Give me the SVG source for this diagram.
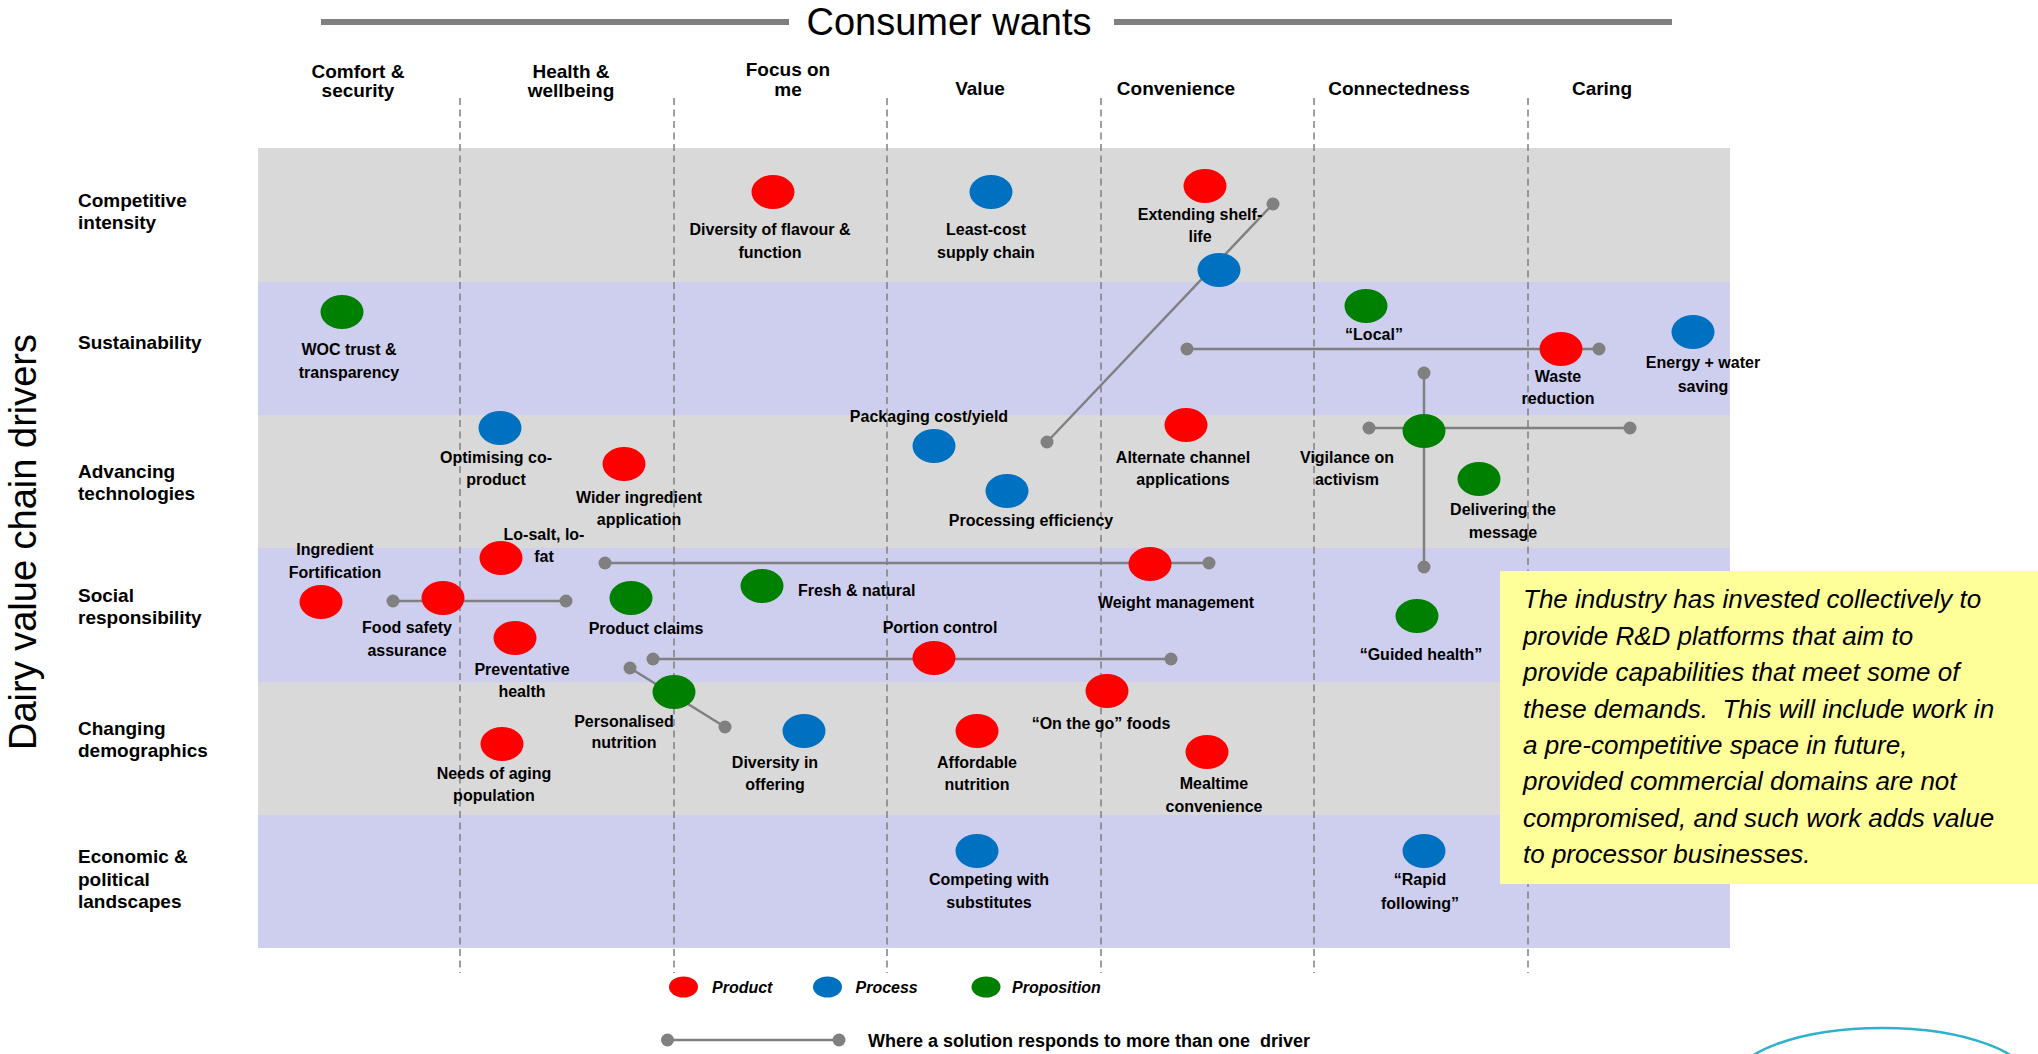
<svg xmlns="http://www.w3.org/2000/svg" width="2038" height="1054" viewBox="0 0 2038 1054">
<defs>
<style>
.bg{fill:#FFFFFF}
.band-g{fill:#D9D9D9}
.band-l{fill:#CECEEE}
.div{stroke:#808080;stroke-width:1.5;stroke-dasharray:7 4.5;fill:none}
.tline{stroke:#808080;stroke-width:6}
.title{font-family:"Liberation Sans",Arial,sans-serif;font-size:38px;fill:#000;text-anchor:middle}
.yaxis{font-family:"Liberation Sans",Arial,sans-serif;font-size:38px;fill:#000;text-anchor:middle}
.hdr{font-family:"Liberation Sans",Arial,sans-serif;font-weight:bold;font-size:19px;fill:#000;text-anchor:middle}
.row{font-family:"Liberation Sans",Arial,sans-serif;font-weight:bold;font-size:19px;fill:#000}
.lbl{font-family:"Liberation Sans",Arial,sans-serif;font-weight:bold;font-size:16px;fill:#000;text-anchor:middle}
.lbls{font-family:"Liberation Sans",Arial,sans-serif;font-weight:bold;font-size:16px;fill:#000}
.leg{font-family:"Liberation Sans",Arial,sans-serif;font-weight:bold;font-style:italic;font-size:16px;fill:#000}
.legl{font-family:"Liberation Sans",Arial,sans-serif;font-weight:bold;font-size:18px;fill:#000}
.note{font-family:"Liberation Sans",Arial,sans-serif;font-style:italic;font-size:26px;fill:#000}
.red{fill:#FF0000}
.blue{fill:#0070C0}
.green{fill:#008000}
.conn{stroke:#808080;stroke-width:2.5;fill:none}
.dot{fill:#808080}
</style>
</defs>
<rect class="bg" x="0" y="0" width="2038" height="1054"/>

<!-- title -->
<g id="title">
<line class="tline" x1="321" y1="22" x2="789" y2="22"/>
<line class="tline" x1="1114" y1="22" x2="1672" y2="22"/>
<text class="title" x="949" y="35">Consumer wants</text>
</g>

<!-- bands -->
<g id="bands">
<rect class="band-g" x="258" y="148" width="1472" height="134"/>
<rect class="band-l" x="258" y="282" width="1472" height="133"/>
<rect class="band-g" x="258" y="415" width="1472" height="133"/>
<rect class="band-l" x="258" y="548" width="1472" height="134"/>
<rect class="band-g" x="258" y="682" width="1472" height="133"/>
<rect class="band-l" x="258" y="815" width="1472" height="133"/>
</g>

<!-- dividers -->
<g id="dividers">
<line class="div" x1="460" y1="98" x2="460" y2="973"/>
<line class="div" x1="674" y1="98" x2="674" y2="973"/>
<line class="div" x1="887" y1="98" x2="887" y2="973"/>
<line class="div" x1="1101" y1="98" x2="1101" y2="973"/>
<line class="div" x1="1314" y1="98" x2="1314" y2="973"/>
<line class="div" x1="1528" y1="98" x2="1528" y2="973"/>
</g>

<!-- column headers -->
<g id="columns">
<text class="hdr" x="358" y="78">Comfort &amp;</text>
<text class="hdr" x="358" y="97">security</text>
<text class="hdr" x="571" y="78">Health &amp;</text>
<text class="hdr" x="571" y="97">wellbeing</text>
<text class="hdr" x="788" y="76">Focus on</text>
<text class="hdr" x="788" y="96">me</text>
<text class="hdr" x="980" y="95">Value</text>
<text class="hdr" x="1176" y="95">Convenience</text>
<text class="hdr" x="1399" y="95">Connectedness</text>
<text class="hdr" x="1602" y="95">Caring</text>
</g>

<!-- row labels -->
<g id="rows">
<text class="yaxis" transform="translate(36,542) rotate(-90)">Dairy value chain drivers</text>
<text class="row" x="78" y="207">Competitive</text>
<text class="row" x="78" y="229">intensity</text>
<text class="row" x="78" y="349">Sustainability</text>
<text class="row" x="78" y="478">Advancing</text>
<text class="row" x="78" y="500">technologies</text>
<text class="row" x="78" y="602">Social</text>
<text class="row" x="78" y="624">responsibility</text>
<text class="row" x="78" y="735">Changing</text>
<text class="row" x="78" y="757">demographics</text>
<text class="row" x="78" y="863">Economic &amp;</text>
<text class="row" x="78" y="886">political</text>
<text class="row" x="78" y="908">landscapes</text>
</g>

<!-- connectors -->
<g id="connectors">
<line class="conn" x1="1273" y1="204" x2="1047" y2="442"/>
<line class="conn" x1="1187" y1="349" x2="1599" y2="349"/>
<line class="conn" x1="1424" y1="373" x2="1424" y2="567"/>
<line class="conn" x1="1369" y1="428" x2="1630" y2="428"/>
<line class="conn" x1="605" y1="563" x2="1209" y2="563"/>
<line class="conn" x1="393" y1="601" x2="566" y2="601"/>
<line class="conn" x1="653" y1="659" x2="1171" y2="659"/>
<line class="conn" x1="630" y1="668" x2="725" y2="727"/>
<circle class="dot" cx="1273" cy="204" r="6.5"/>
<circle class="dot" cx="1047" cy="442" r="6.5"/>
<circle class="dot" cx="1187" cy="349" r="6.5"/>
<circle class="dot" cx="1599" cy="349" r="6.5"/>
<circle class="dot" cx="1424" cy="373" r="6.5"/>
<circle class="dot" cx="1424" cy="567" r="6.5"/>
<circle class="dot" cx="1369" cy="428" r="6.5"/>
<circle class="dot" cx="1630" cy="428" r="6.5"/>
<circle class="dot" cx="605" cy="563" r="6.5"/>
<circle class="dot" cx="1209" cy="563" r="6.5"/>
<circle class="dot" cx="393" cy="601" r="6.5"/>
<circle class="dot" cx="566" cy="601" r="6.5"/>
<circle class="dot" cx="653" cy="659" r="6.5"/>
<circle class="dot" cx="1171" cy="659" r="6.5"/>
<circle class="dot" cx="630" cy="668" r="6.5"/>
<circle class="dot" cx="725" cy="727" r="6.5"/>
</g>

<!-- nodes -->
<g id="n-diversity-flavour"><ellipse class="red" cx="773" cy="192" rx="21.5" ry="17"/><text class="lbl" x="770" y="235">Diversity of flavour &amp;</text><text class="lbl" x="770" y="258">function</text></g>
<g id="n-least-cost"><ellipse class="blue" cx="991" cy="192" rx="21.5" ry="17"/><text class="lbl" x="986" y="235">Least-cost</text><text class="lbl" x="986" y="258">supply chain</text></g>
<g id="n-extending-shelf-life"><ellipse class="red" cx="1205" cy="186" rx="21.5" ry="17"/><text class="lbl" x="1200" y="220">Extending shelf-</text><text class="lbl" x="1200" y="242">life</text></g>
<g id="n-shelf-process"><ellipse class="blue" cx="1219" cy="270" rx="21.5" ry="17"/></g>
<g id="n-woc"><ellipse class="green" cx="342" cy="312" rx="21.5" ry="17"/><text class="lbl" x="349" y="355">WOC trust &amp;</text><text class="lbl" x="349" y="378">transparency</text></g>
<g id="n-local"><ellipse class="green" cx="1366" cy="306" rx="21.5" ry="17"/><text class="lbl" x="1374" y="340">“Local”</text></g>
<g id="n-waste"><ellipse class="red" cx="1561" cy="349" rx="21.5" ry="17"/><text class="lbl" x="1558" y="382">Waste</text><text class="lbl" x="1558" y="404">reduction</text></g>
<g id="n-energy"><ellipse class="blue" cx="1693" cy="332" rx="21.5" ry="17"/><text class="lbl" x="1703" y="368">Energy + water</text><text class="lbl" x="1703" y="392">saving</text></g>
<g id="n-optimising"><ellipse class="blue" cx="500" cy="428" rx="21.5" ry="17"/><text class="lbl" x="496" y="463">Optimising co-</text><text class="lbl" x="496" y="485">product</text></g>
<g id="n-wider"><ellipse class="red" cx="624" cy="464" rx="21.5" ry="17"/><text class="lbl" x="639" y="503">Wider ingredient</text><text class="lbl" x="639" y="525">application</text></g>
<g id="n-packaging"><ellipse class="blue" cx="934" cy="446" rx="21.5" ry="17"/><text class="lbl" x="929" y="422">Packaging cost/yield</text></g>
<g id="n-alternate"><ellipse class="red" cx="1186" cy="425" rx="21.5" ry="17"/><text class="lbl" x="1183" y="463">Alternate channel</text><text class="lbl" x="1183" y="485">applications</text></g>
<g id="n-vigilance"><ellipse class="green" cx="1424" cy="431" rx="21.5" ry="17"/><text class="lbl" x="1347" y="463">Vigilance on</text><text class="lbl" x="1347" y="485">activism</text></g>
<g id="n-delivering"><ellipse class="green" cx="1479" cy="479" rx="21.5" ry="17"/><text class="lbl" x="1503" y="515">Delivering the</text><text class="lbl" x="1503" y="538">message</text></g>
<g id="n-processing"><ellipse class="blue" cx="1007" cy="491" rx="21.5" ry="17"/><text class="lbl" x="1031" y="526">Processing efficiency</text></g>
<g id="n-losalt"><ellipse class="red" cx="501" cy="558" rx="21.5" ry="17"/><text class="lbl" x="544" y="540">Lo-salt, lo-</text><text class="lbl" x="544" y="562">fat</text></g>
<g id="n-fortification"><ellipse class="red" cx="321" cy="602" rx="21.5" ry="17"/><text class="lbl" x="335" y="555">Ingredient</text><text class="lbl" x="335" y="578">Fortification</text></g>
<g id="n-food-safety"><ellipse class="red" cx="443" cy="598" rx="21.5" ry="17"/><text class="lbl" x="407" y="633">Food safety</text><text class="lbl" x="407" y="656">assurance</text></g>
<g id="n-product-claims"><ellipse class="green" cx="631" cy="598" rx="21.5" ry="17"/><text class="lbl" x="646" y="634">Product claims</text></g>
<g id="n-fresh"><ellipse class="green" cx="762" cy="586" rx="21.5" ry="17"/><text class="lbls" x="798" y="596">Fresh &amp; natural</text></g>
<g id="n-weight"><ellipse class="red" cx="1150" cy="564" rx="21.5" ry="17"/><text class="lbl" x="1176" y="608">Weight management</text></g>
<g id="n-preventative"><ellipse class="red" cx="515" cy="638" rx="21.5" ry="17"/><text class="lbl" x="522" y="675">Preventative</text><text class="lbl" x="522" y="697">health</text></g>
<g id="n-portion"><ellipse class="red" cx="934" cy="658" rx="21.5" ry="17"/><text class="lbl" x="940" y="633">Portion control</text></g>
<g id="n-guided"><ellipse class="green" cx="1417" cy="616" rx="21.5" ry="17"/><text class="lbl" x="1421" y="660">“Guided health”</text></g>
<g id="n-personalised"><ellipse class="green" cx="674" cy="692" rx="21.5" ry="17"/><text class="lbl" x="624" y="727">Personalised</text><text class="lbl" x="624" y="748">nutrition</text></g>
<g id="n-diversity-offering"><ellipse class="blue" cx="804" cy="731" rx="21.5" ry="17"/><text class="lbl" x="775" y="768">Diversity in</text><text class="lbl" x="775" y="790">offering</text></g>
<g id="n-aging"><ellipse class="red" cx="502" cy="744" rx="21.5" ry="17"/><text class="lbl" x="494" y="779">Needs of aging</text><text class="lbl" x="494" y="801">population</text></g>
<g id="n-affordable"><ellipse class="red" cx="977" cy="731" rx="21.5" ry="17"/><text class="lbl" x="977" y="768">Affordable</text><text class="lbl" x="977" y="790">nutrition</text></g>
<g id="n-onthego"><ellipse class="red" cx="1107" cy="691" rx="21.5" ry="17"/><text class="lbl" x="1101" y="729">“On the go” foods</text></g>
<g id="n-mealtime"><ellipse class="red" cx="1207" cy="752" rx="21.5" ry="17"/><text class="lbl" x="1214" y="789">Mealtime</text><text class="lbl" x="1214" y="812">convenience</text></g>
<g id="n-competing"><ellipse class="blue" cx="977" cy="851" rx="21.5" ry="17"/><text class="lbl" x="989" y="885">Competing with</text><text class="lbl" x="989" y="908">substitutes</text></g>
<g id="n-rapid"><ellipse class="blue" cx="1424" cy="851" rx="21.5" ry="17"/><text class="lbl" x="1420" y="885">“Rapid</text><text class="lbl" x="1420" y="909">following”</text></g>

<!-- note box -->
<g id="note">
<rect x="1500" y="571" width="538" height="313" fill="#FFFF99"/>
<text class="note" x="1523" y="608" xml:space="preserve">The industry has invested collectively to</text>
<text class="note" x="1523" y="644.5" xml:space="preserve">provide R&amp;D platforms that aim to</text>
<text class="note" x="1523" y="681" xml:space="preserve">provide capabilities that meet some of</text>
<text class="note" x="1523" y="717.5" xml:space="preserve">these demands.  This will include work in</text>
<text class="note" x="1523" y="754" xml:space="preserve">a pre-competitive space in future,</text>
<text class="note" x="1523" y="790" xml:space="preserve">provided commercial domains are not</text>
<text class="note" x="1523" y="826.5" xml:space="preserve">compromised, and such work adds value</text>
<text class="note" x="1523" y="863" xml:space="preserve">to processor businesses.</text>
</g>

<!-- legend -->
<g id="legend">
<ellipse class="red" cx="683.5" cy="987" rx="14.5" ry="10.5"/>
<text class="leg" x="712" y="992.5">Product</text>
<ellipse class="blue" cx="827.5" cy="987" rx="14.5" ry="10.5"/>
<text class="leg" x="855.5" y="992.5">Process</text>
<ellipse class="green" cx="986" cy="987" rx="14.5" ry="10.5"/>
<text class="leg" x="1012" y="992.5">Proposition</text>
<line class="conn" x1="667.5" y1="1040" x2="839" y2="1040" stroke-width="3"/>
<circle class="dot" cx="667.5" cy="1040" r="6.5"/>
<circle class="dot" cx="839" cy="1040" r="6.5"/>
<text class="legl" x="868" y="1047" xml:space="preserve">Where a solution responds to more than one  driver</text>
</g>

<!-- logo arc -->
<g id="logo-arc">
<ellipse cx="1882" cy="1084" rx="150" ry="56" fill="none" stroke="#2EB2CC" stroke-width="2.5"/>
</g>
</svg>
